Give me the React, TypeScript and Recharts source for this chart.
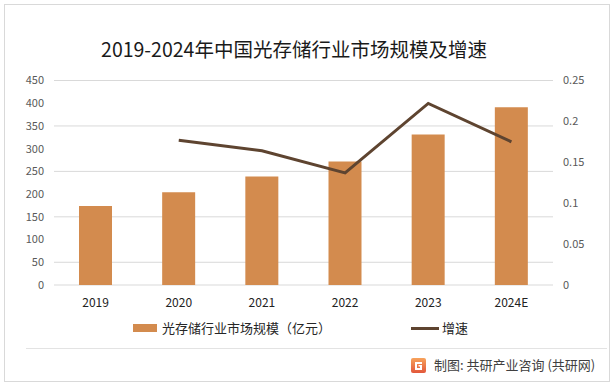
import React from 'react';
import { ComposedChart, Bar, Line, XAxis, YAxis, CartesianGrid } from 'recharts';

const years = ['2019', '2020', '2021', '2022', '2023', '2024E'];
const marketSize = [174, 204, 239, 272, 331, 391];
const growth: (number | null)[] = [null, 0.177, 0.164, 0.137, 0.222, 0.175];
const leftTicks = [0, 50, 100, 150, 200, 250, 300, 350, 400, 450];
const rightTicks = [0, 0.05, 0.1, 0.15, 0.2, 0.25];

const title = '2019-2024年中国光存储行业市场规模及增速';
const barName = '光存储行业市场规模（亿元）';
const lineName = '增速';
const sourceText = '制图: 共研产业咨询 (共研网)';

const data = years.map((y, i) => ({ year: y, size: marketSize[i], growth: growth[i] }));

const BAR_COLOR = '#D38B4E';
const LINE_COLOR = '#5E4430';
const FONT = '"Noto Sans CJK SC", "Noto Sans", sans-serif';

export default function App() {
  return (
    <div style={{ position: 'fixed', left: 0, top: 0, width: 616, height: 386, background: '#fff', fontFamily: FONT }}>
      <div style={{ position: 'absolute', left: 4, top: 4, width: 606, height: 378, border: '1px solid #d9d9d9', boxSizing: 'border-box' }} />
      <div style={{ position: 'absolute', left: 0, top: 35, width: 588, textAlign: 'center', fontSize: 19.5, color: '#1a1a1a', lineHeight: '28px', whiteSpace: 'nowrap' }}>
        {title}
      </div>
      <div style={{ position: 'absolute', left: 0, top: 0 }}>
        <ComposedChart width={616} height={386} data={data} margin={{ top: 80.5, right: 0, bottom: 71, left: 0 }}>
          <CartesianGrid yAxisId="left" vertical={false} stroke="#d9d9d9" strokeWidth={1} />
          <XAxis dataKey="year" axisLine={false} tickLine={false} tickSize={0} tickMargin={13} interval={0} height={30}
            tick={{ fontSize: 12, fill: '#222', fontFamily: FONT }} />
          <YAxis yAxisId="left" orientation="left" domain={[0, 450]} ticks={leftTicks} width={54} axisLine={false} tickLine={false}
            tickSize={0} tickMargin={10} tick={{ fontSize: 11, fill: '#595959', fontFamily: FONT }} />
          <YAxis yAxisId="right" orientation="right" domain={[0, 0.25]} ticks={rightTicks} width={63} axisLine={false} tickLine={false}
            tickSize={0} tickMargin={10} tick={{ fontSize: 11, fill: '#595959', fontFamily: FONT }} />
          <Bar yAxisId="left" dataKey="size" name={barName} fill={BAR_COLOR} barSize={33} isAnimationActive={false} />
          <Line yAxisId="right" dataKey="growth" name={lineName} stroke={LINE_COLOR} strokeWidth={3} dot={false} activeDot={false} isAnimationActive={false} />
        </ComposedChart>
      </div>
      {/* legend */}
      <div style={{ position: 'absolute', left: 133, top: 324, width: 24, height: 8, background: BAR_COLOR }} />
      <div style={{ position: 'absolute', left: 162, top: 318, fontSize: 13, lineHeight: '20px', color: '#262626', whiteSpace: 'nowrap' }}>{barName}</div>
      <div style={{ position: 'absolute', left: 411, top: 327, width: 28, height: 3, background: LINE_COLOR }} />
      <div style={{ position: 'absolute', left: 442, top: 318, fontSize: 13, lineHeight: '20px', color: '#262626', whiteSpace: 'nowrap' }}>{lineName}</div>
      {/* footer */}
      <div style={{ position: 'absolute', left: 26, top: 348, width: 581, height: 1, background: '#e3e3e3' }} />
      <svg style={{ position: 'absolute', left: 411, top: 358 }} width={15} height={15} viewBox="0 0 15 15">
        <defs>
          <linearGradient id="lg" x1="0" y1="0" x2="0" y2="1">
            <stop offset="0" stopColor="#F7A35C" />
            <stop offset="1" stopColor="#E2573B" />
          </linearGradient>
        </defs>
        <rect x={0} y={0} width={15} height={15} rx={2} fill="url(#lg)" />
        <path d="M4 4 H11 V6 H6 V10 H9 V8.5 H7.5 V7 H11 V12 H4 Z" fill="#fff" />
      </svg>
      <div style={{ position: 'absolute', left: 434, top: 355, fontSize: 13, lineHeight: '20px', color: '#404040', whiteSpace: 'nowrap' }}>{sourceText}</div>
    </div>
  );
}
